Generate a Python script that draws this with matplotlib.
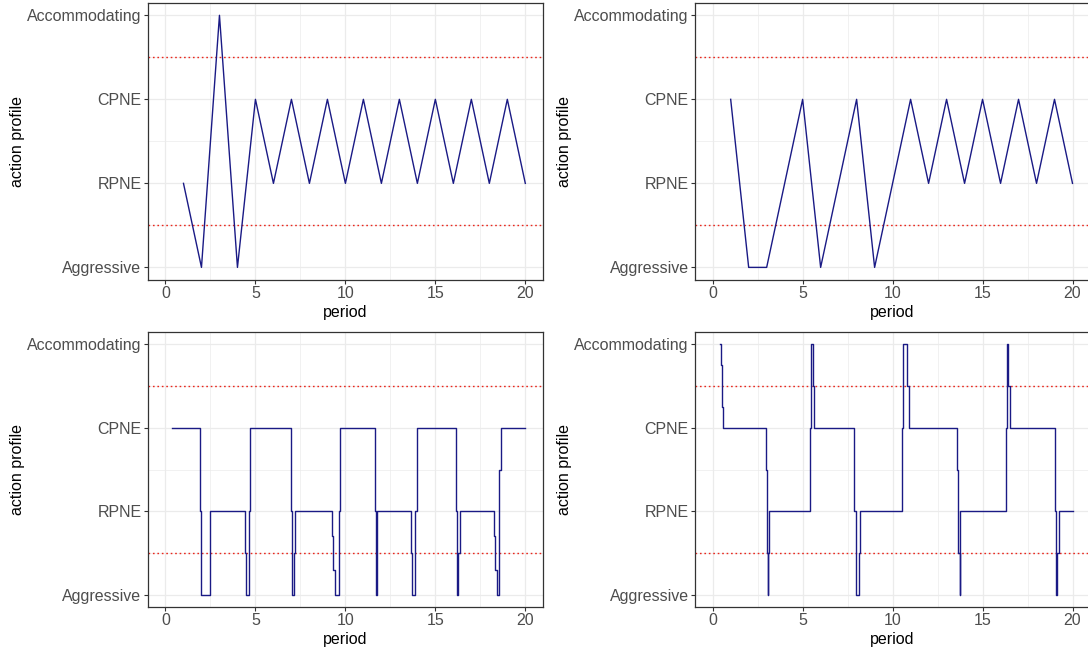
import matplotlib
matplotlib.use("Agg")
import matplotlib.pyplot as plt

plt.rcParams['font.family'] = ['Liberation Sans', 'DejaVu Sans']

# ---- data ----
level_values = [1, 2, 3, 4]
level_labels = ["Aggressive", "RPNE", "CPNE", "Accommodating"]
thresholds = [1.5, 3.5]

tl_period = list(range(1, 21))
tl_level = [2, 1, 4, 1, 3, 2, 3, 2, 3, 2, 3, 2, 3, 2, 3, 2, 3, 2, 3, 2]

tr_period = list(range(1, 21))
tr_level = [3, 1, 1, 2, 3, 1, 2, 3, 1, 2, 3, 2, 3, 2, 3, 2, 3, 2, 3, 2]

bl_time = [0.37, 1.93, 1.98, 2.45, 2.50, 4.43, 4.47, 4.64, 4.70, 6.99, 7.04, 7.16, 7.21,
           9.27, 9.33, 9.40, 9.64, 9.70, 11.66, 11.72, 11.74, 11.76, 13.66, 13.72, 13.89,
           13.98, 16.17, 16.22, 16.28, 16.35, 18.28, 18.33, 18.40, 18.52, 18.63, 20.0]
bl_level = [3, 2, 1, 1.5, 2, 1.5, 1, 2, 3, 2, 1, 1.5, 2,
            1.7, 1.3, 1, 2, 3, 2, 1, 1.5, 2, 1.5, 1, 2,
            3, 2, 1, 1.5, 2, 1.7, 1.3, 1, 2.5, 3, 3]

br_time = [0.43, 0.44, 0.50, 0.56, 2.95, 3.00, 3.06, 3.10, 3.12, 5.42, 5.47, 5.57, 5.64,
           7.88, 7.98, 8.11, 8.17, 10.55, 10.57, 10.79, 10.90, 13.59, 13.66, 13.72, 13.77,
           16.28, 16.34, 16.43, 16.50, 19.00, 19.07, 19.15, 19.24, 20.0]
br_level = [4, 3.75, 3.25, 3, 2.5, 1.5, 1, 1.5, 2, 3, 4, 3.5, 3,
            2, 1, 1.5, 2, 3, 4, 3.5, 3, 2.5, 1.5, 1, 2,
            3, 4, 3.5, 3, 2, 1, 1.5, 2, 2]

x_major = [0, 5, 10, 15, 20]
x_minor = [2.5, 7.5, 12.5, 17.5]
y_minor = [1.5, 2.5, 3.5]

# ---- figure ----
W, H = 1088, 653
fig = plt.figure(figsize=(W / 100, H / 100), dpi=100)
fig.patch.set_facecolor("white")


def ax_at(l, t, r, b):
    return fig.add_axes([l / W, 1 - b / H, (r - l) / W, (b - t) / H])


LINE = "#1a1a85"
GRID = "#EBEBEB"
DARK = "#333333"
TXT = "#4D4D4D"


def style(ax):
    ax.set_xlim(-1, 21)
    ax.set_ylim(0.85, 4.15)
    ax.set_xticks(x_major)
    ax.set_xticks(x_minor, minor=True)
    ax.set_yticks(level_values, level_labels)
    ax.set_yticks(y_minor, minor=True)
    ax.grid(which="major", color=GRID, lw=0.9)
    ax.grid(which="minor", color=GRID, lw=0.5)
    ax.set_axisbelow(True)
    ax.tick_params(which="minor", length=0)
    ax.tick_params(which="major", length=2.8, width=0.8, color=DARK,
                   labelcolor=TXT, labelsize=11.5, pad=1.5)
    for s in ax.spines.values():
        s.set_color(DARK)
        s.set_linewidth(0.9)
    for th in thresholds:
        ax.axhline(th, color="#E8281E", lw=1.0, ls=(0, (1.2, 2.0)), zorder=1.5)


panels = {
    "tl": (147.5, 2.7, 543.3, 280.0),
    "tr": (694.7, 2.7, 1090.5, 280.0),
    "bl": (147.5, 331.7, 543.3, 607.3),
    "br": (694.7, 331.7, 1090.5, 607.3),
}

axes = {k: ax_at(*v) for k, v in panels.items()}
for ax in axes.values():
    style(ax)

axes["tl"].plot(tl_period, tl_level, color=LINE, lw=1.0, zorder=3)
axes["tr"].plot(tr_period, tr_level, color=LINE, lw=1.0, zorder=3)
axes["bl"].plot(bl_time, bl_level, color=LINE, lw=1.0, drawstyle="steps-post", zorder=3)
axes["br"].plot(br_time, br_level, color=LINE, lw=1.0, drawstyle="steps-post", zorder=3)

for k, (l, t, r, b) in panels.items():
    cx = (l + r) / 2
    cy = (t + b) / 2
    fig.text(cx / W, 1 - (b + 32.5) / H, "period", ha="center", va="center",
             fontsize=11.5, color="black")
    fig.text((l - 130.2) / W, 1 - cy / H, "action profile", ha="center", va="center",
             rotation=90, fontsize=11.5, color="black")

fig.savefig("out.png", dpi=100)
